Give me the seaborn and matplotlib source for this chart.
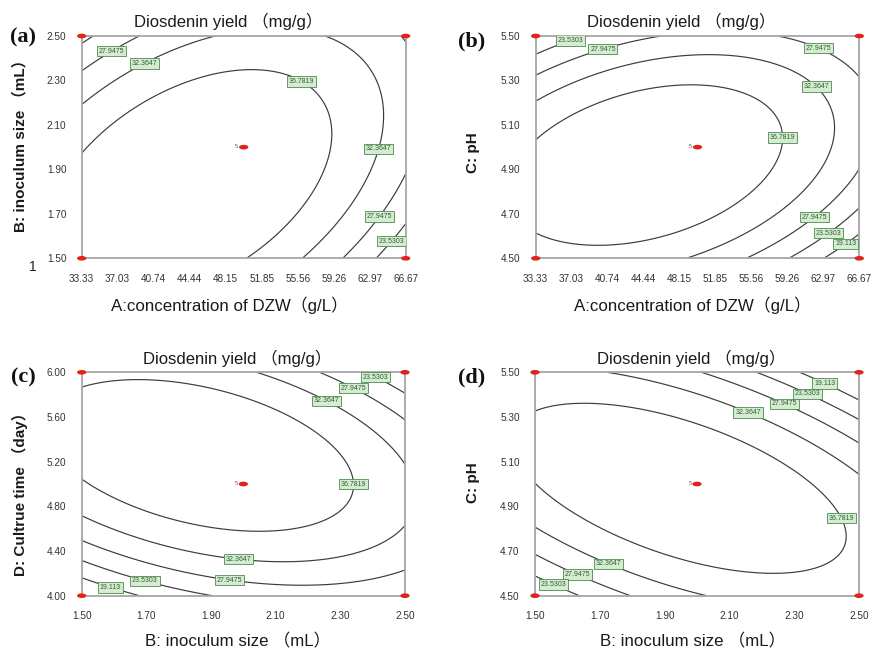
import numpy as np
import pandas as pd
import matplotlib
matplotlib.use("Agg")
import matplotlib.pyplot as plt
from matplotlib import font_manager
from matplotlib.path import Path
import seaborn as sns

# ---------------- data ----------------
LEVELS = [19.113, 23.5303, 27.9475, 32.3647, 36.7819]
L19, L23, L27, L32, L36 = range(5)

conc_range = (33.33, 66.67)   # A: concentration of DZW (g/L)
inoc_range = (1.50, 2.50)     # B: inoculum size (mL)
ph_range = (4.50, 5.50)       # C: pH
time_range = (4.00, 6.00)     # D: culture time (day)

conc_ticks = ["33.33", "37.03", "40.74", "44.44", "48.15", "51.85",
              "55.56", "59.26", "62.97", "66.67"]
inoc_ticks = ["1.50", "1.70", "1.90", "2.10", "2.30", "2.50"]
ph_ticks = ["4.50", "4.70", "4.90", "5.10", "5.30", "5.50"]
time_ticks = ["4.00", "4.40", "4.80", "5.20", "5.60", "6.00"]

# design points in coded units: factorial corners + centre point (5 reps)
design_x = [-1, -1, 1, 1, 0]
design_y = [-1, 1, -1, 1, 0]
centre_reps = "5"

# points (coded x, coded y, level index)
trace_a = [
    (-1, -0.06, L36), (-0.475, 0.47, L36), (0.06, 0.70, L36), (0.368, 0.619, L36),
    (0.547, 0.18, L36), (0.44, -0.355, L36), (0.02, -1, L36),
    (-1, 0.37, L32), (-0.62, 0.775, L32), (-0.06, 1, L32), (0.50, 1, L32),
    (0.875, 0.21, L32), (0.827, -0.013, L32), (0.636, -0.625, L32), (0.37, -1, L32),
    (-1, 0.68, L27), (-0.825, 0.89, L27), (-0.64, 1, L27),
    (1, -0.25, L27), (0.827, -0.61, L27), (0.615, -1, L27),
    (-1, 0.937, L23), (-0.918, 1, L23), (1, -0.70, L23), (0.899, -0.829, L23), (0.82, -1, L23),
]
trace_b = [
    (-1, -0.055, L36), (-0.77, 0.30, L36), (-0.15, 0.53, L36), (0.263, 0.455, L36),
    (0.47, 0.27, L36), (0.54, 0.065, L36), (0.43, -0.27, L36), (0.263, -0.535, L36),
    (-0.045, -0.775, L36), (-0.66, -0.895, L36), (-1, -0.73, L36),
    (-1, 0.335, L32), (-0.56, 0.69, L32), (-0.05, 0.80, L32), (0.743, 0.559, L32),
    (0.86, 0.155, L32), (0.675, -0.475, L32), (-0.036, -1, L32),
    (-1, 0.76, L27), (-0.582, 0.868, L27), (0.753, 0.91, L27), (1, 0.62, L27),
    (1, -0.235, L27), (0.711, -0.61, L27), (0.335, -1, L27),
    (-1, 0.88, L23), (-0.778, 0.934, L23), (-0.62, 1, L23),
    (1, -0.566, L23), (0.798, -0.75, L23), (0.56, -1, L23),
    (1, -0.76, L19), (0.901, -0.843, L19), (0.767, -1, L19),
]
trace_c = [
    (-1, 0.806, L36), (-0.825, 0.857, L36), (-0.062, 0.722, L36), (0.454, 0.40, L36),
    (0.70, -0.084, L36), (0.557, -0.382, L36), (0.186, -0.457, L36), (-0.474, -0.293, L36),
    (-1, -0.024, L36),
    (-1, -0.337, L32), (-0.031, -0.651, L32), (0.35, -0.71, L32), (1, -0.418, L32),
    (0.309, 1, L32), (0.505, 0.713, L32), (1, 0.14, L32),
    (-1, -0.531, L27), (-0.082, -0.83, L27), (0.35, -0.92, L27), (1, -0.77, L27),
    (0.619, 1, L27), (0.67, 0.827, L27), (1, 0.54, L27),
    (-1, -0.71, L23), (-0.602, -0.83, L23), (-0.216, -1, L23),
    (0.78, 1, L23), (0.804, 0.916, L23), (1, 0.78, L23),
    (-1, -0.845, L19), (-0.814, -0.884, L19), (-0.65, -1, L19),
]
trace_d = [
    (-1, 0.669, L36), (-0.763, 0.737, L36), (0.06, 0.44, L36), (0.471, 0.2, L36),
    (0.78, -0.113, L36), (0.893, -0.45, L36), (0.471, -0.806, L36), (-0.146, -0.725, L36),
    (-0.558, -0.43, L36), (-1, -0.039, L36),
    (-0.558, 1, L32), (0.323, 0.669, L32), (1, 0.066, L32),
    (-1, -0.412, L32), (-0.541, -0.701, L32), (0.039, -1, L32),
    (-0.064, 1, L27), (0.543, 0.737, L27), (1, 0.379, L27),
    (-1, -0.645, L27), (-0.733, -0.791, L27), (-0.424, -1, L27),
    (0.358, 1, L23), (0.687, 0.818, L23), (1, 0.573, L23),
    (-1, -0.806, L23), (-0.877, -0.875, L23), (-0.743, -1, L23),
    (0.656, 1, L19), (0.790, 0.910, L19), (1, 0.737, L19),
]

# where the boxed contour labels sit (coded units)
labels_a = [(-0.825, 0.89), (-0.62, 0.775), (0.368, 0.619), (0.827, -0.013),
            (0.827, -0.61), (0.899, -0.829)]
labels_b = [(-0.778, 0.934), (-0.582, 0.868), (0.753, 0.91), (0.743, 0.559),
            (0.541, 0.088), (0.711, -0.61), (0.798, -0.745), (0.901, -0.841)]
labels_c = [(0.804, 0.916), (0.670, 0.827), (0.505, 0.713), (0.697, 0.0),
            (-0.031, -0.651), (-0.082, -0.830), (-0.602, -0.830), (-0.814, -0.884)]
labels_d = [(0.790, 0.910), (0.687, 0.818), (0.543, 0.737), (0.323, 0.669),
            (0.879, -0.313), (-0.541, -0.701), (-0.733, -0.791), (-0.877, -0.875)]

TITLE = "Diosdenin yield （mg/g）"
XLAB_A = "A:concentration of DZW（g/L）"
YLAB_B = "B: inoculum size （mL）"
YLAB_C = "C: pH"
YLAB_D = "D: Cultrue time （day）"
XLAB_B = "B: inoculum size （mL）"

# ---------------- styling ----------------
sns.set_theme(style="white")
avail = {f.name for f in font_manager.fontManager.ttflist}
SANS = ["Liberation Sans", "Noto Sans CJK SC", "DejaVu Sans"]
NARROW = "Liberation Sans Narrow" if "Liberation Sans Narrow" in avail else "Liberation Sans"
plt.rcParams["font.family"] = SANS

FIG_W, FIG_H = 876, 651
fig = plt.figure(figsize=(FIG_W / 100, FIG_H / 100), dpi=100)
fig.patch.set_facecolor("white")


def px_axes(left, top, right, bottom):
    return fig.add_axes([left / FIG_W, 1 - bottom / FIG_H,
                         (right - left) / FIG_W, (bottom - top) / FIG_H])


t = np.linspace(0, 2 * np.pi, 40)
ELLIPSE = Path(np.column_stack([np.cos(t), 0.5 * np.sin(t)]))


def fit(trace):
    arr = np.asarray(trace, float)
    x, y = arr[:, 0], arr[:, 1]
    z = np.asarray(LEVELS)[arr[:, 2].astype(int)]
    X = np.column_stack([np.ones_like(x), x, y, x * y, x * x, y * y])
    coef, *_ = np.linalg.lstsq(X, z, rcond=None)
    return coef


def panel(ax, trace, xr, yr, xt, yt, lab_pos):
    c = fit(trace)
    g = np.linspace(-1, 1, 401)
    GX, GY = np.meshgrid(g, g)
    Z = c[0] + c[1] * GX + c[2] * GY + c[3] * GX * GY + c[4] * GX ** 2 + c[5] * GY ** 2
    xm, xh = (xr[0] + xr[1]) / 2, (xr[1] - xr[0]) / 2
    ym, yh = (yr[0] + yr[1]) / 2, (yr[1] - yr[0]) / 2
    XA, YA = xm + GX * xh, ym + GY * yh
    cs = ax.contour(XA, YA, Z, levels=LEVELS, colors="#3c3c3c", linewidths=0.85)
    pos = [(xm + px * xh, ym + py * yh) for px, py in lab_pos]
    texts = ax.clabel(cs, inline=False, fontsize=5.0, fmt=lambda v: f"{v:g}",
                      manual=pos)
    for tx in texts:
        tx.set_rotation(0)
        tx.set_color("#2f602f")
        tx.set_fontfamily(NARROW)
        tx.set_bbox(dict(boxstyle="square,pad=0.25", fc="#d6ecd2", ec="#4c8a4c", lw=0.6))
        tx.set_zorder(4)
    df = pd.DataFrame({"x": [xm + v * xh for v in design_x],
                       "y": [ym + v * yh for v in design_y]})
    sns.scatterplot(data=df, x="x", y="y", ax=ax, marker=ELLIPSE, s=45,
                    color="#e2231a", edgecolor="none", linewidth=0,
                    clip_on=False, zorder=6, legend=False)
    ax.annotate(centre_reps, (xm, ym), xytext=(-4, 0.5), textcoords="offset points",
                fontsize=4, ha="right", va="center", color="#555555")
    ax.set_xlim(*xr)
    ax.set_ylim(*yr)
    ax.set_xticks([float(v) for v in xt])
    ax.set_xticklabels(xt)
    ax.set_yticks([float(v) for v in yt])
    ax.set_yticklabels(yt)
    ax.set_xlabel("")
    ax.set_ylabel("")
    ax.tick_params(direction="out", length=4, width=1, color="#8c8c8c",
                   labelsize=7.2, labelcolor="#333333", pad=7)
    for lbl in ax.get_xticklabels() + ax.get_yticklabels():
        lbl.set_fontfamily(NARROW)
    for sp in ax.spines.values():
        sp.set_color("#a6a6a6")
        sp.set_linewidth(1.3)
        sp.set_visible(True)
    ax.set_facecolor("white")


ax_a = px_axes(81.7, 36, 405.7, 258.3)
ax_b = px_axes(535.7, 36, 859.3, 258.3)
ax_c = px_axes(81.7, 372.3, 405.0, 595.7)
ax_d = px_axes(535.0, 372.3, 859.0, 595.7)

panel(ax_a, trace_a, conc_range, inoc_range, conc_ticks, inoc_ticks, labels_a)
panel(ax_b, trace_b, conc_range, ph_range, conc_ticks, ph_ticks, labels_b)
panel(ax_c, trace_c, inoc_range, time_range, inoc_ticks, time_ticks, labels_c)
panel(ax_d, trace_d, inoc_range, ph_range, inoc_ticks, ph_ticks, labels_d)


def ftext(x, y, s, **kw):
    fig.text(x / FIG_W, 1 - y / FIG_H, s, **kw)


title_kw = dict(fontsize=12, color="#1a1a1a", ha="center", va="center")
xlab_kw = dict(fontsize=12.2, color="#1a1a1a", ha="center", va="center")
ylab_kw = dict(fontsize=11, color="#1a1a1a", ha="center", va="center",
               rotation=90, fontweight="semibold")
# titles
for (x, y) in [(228, 21), (681, 21), (237, 358), (691, 358)]:
    ftext(x, y, TITLE, **title_kw)
# x labels
ftext(229, 305, XLAB_A, **xlab_kw)
ftext(692, 305, XLAB_A, **xlab_kw)
ftext(238, 641, XLAB_B, **xlab_kw)
ftext(693, 641, XLAB_B, **xlab_kw)
# y labels
ftext(20, 142, YLAB_B, **ylab_kw)
ftext(473, 153, YLAB_C, **ylab_kw)
ftext(20, 490, YLAB_D, **ylab_kw)
ftext(473, 483, YLAB_C, **ylab_kw)
# panel letters
pl = dict(fontsize=16, fontweight="bold", family=["Liberation Serif", "DejaVu Serif"],
          color="#111111", ha="center", va="center")
ftext(23, 37, "(a)", **pl)
ftext(472, 41, "(b)", **pl)
ftext(23, 377, "(c)", **pl)
ftext(472, 377, "(d)", **pl)
ftext(33, 267, "1", fontsize=10, color="#222222", ha="center", va="center")

fig.savefig("out.png", dpi=100, facecolor="white")
